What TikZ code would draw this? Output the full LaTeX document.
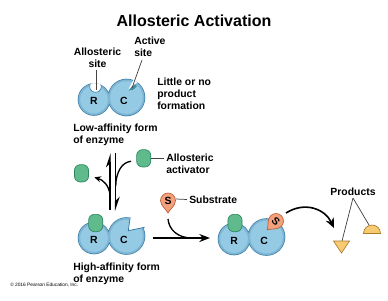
\documentclass[tikz,border=0pt]{standalone}
\usepackage{fontspec}
\setmainfont{Liberation Sans}
\usetikzlibrary{arrows.meta}
\definecolor{enzfill}{HTML}{95CAE4}
\definecolor{enzrim}{HTML}{7DB5D3}
\definecolor{enzline}{HTML}{3B7CA6}
\definecolor{sitefill}{HTML}{3F8FA0}
\definecolor{actfill}{HTML}{5FBA8C}
\definecolor{actline}{HTML}{2F8560}
\definecolor{subfill}{HTML}{F3A17C}
\definecolor{subline}{HTML}{BC5E38}
\definecolor{prodfill}{HTML}{F7CB72}
\definecolor{prodline}{HTML}{A9772A}
\definecolor{leadline}{HTML}{444444}
\tikzset{
  x=.75pt, y=-.75pt,
  txtlabel/.style={font=\fontsize{7.8}{9}\selectfont\bfseries, align=left, inner sep=0pt, text=black},
  txtcentre/.style={txtlabel, align=center},
  letter/.style={font=\fontsize{7.8}{9}\selectfont\bfseries, inner sep=0pt},
  lead/.style={draw=leadline, line width=.55pt},
  curveline/.style={draw=black, line width=1pt},
  flow/.style={curveline, line width=1.2pt, -{Stealth[length=8pt,width=6pt]}},
  flowsmall/.style={curveline, -{Stealth[length=5pt,width=4.5pt]}},
  halfhead/.style={curveline, line width=1.1pt, -{Stealth[harpoon,length=9pt,width=6pt]}},
  activator/.style={draw=actline, fill=actfill, line width=.5pt, rounded corners=4.4pt,
     minimum width=10.6pt, minimum height=13pt, inner sep=0pt},
  lobes/.pic={
    \fill[enzline] (0,0) circle[radius=16.3] (32.5,-2) circle[radius=18.8];
    \fill[enzrim] (0,0) circle[radius=15.6] (32.5,-2) circle[radius=18.1];
    \fill[enzfill] (0,0) circle[radius=13.8] (32.5,-2) circle[radius=16.3];
    \node[letter] at (0,1.5) {R};
    \node[letter] at (30,1.5) {C};
  },
  droplet/.pic={
    \draw[draw=subline, fill=subfill, line width=.5pt]
      (0,12.5) .. controls (-1.5,9) and (-7.5,5.5) .. (-7.5,0) arc[start angle=180, end angle=360, radius=7.5]
      .. controls (7.5,5.5) and (1.5,9) .. cycle;
    \node[letter, transform shape] at (0,0.3) {S};
  }
}
\begin{document}
\begin{tikzpicture}
\useasboundingbox (0,0) rectangle (388,300);
\node[font=\fontsize{12}{14}\selectfont\bfseries, inner sep=0pt] (title) at (194,21) {Allosteric Activation};

% low-affinity enzyme with open sites
\pic at (94,99.5) {lobes};
\begin{scope}
  \clip (94,99.5) circle[radius=16.3];
  \draw[draw=enzline, fill=white, line width=.5pt] (95.5,86.5) circle[radius=5.8];
\end{scope}
\begin{scope}
  \clip (126.5,97.5) circle[radius=18.8];
  \fill[sitefill] (128.5,90.5) -- (134,83) -- (137,86) .. controls (134,90) and (131,91) .. cycle;
  \fill[white] (128.5,90) .. controls (130,85) and (133,81) .. (136,76) -- (142,80) .. controls (137,83) and (132,85) .. cycle;
\end{scope}
\coordinate (allosite) at (96,90);
\coordinate (activesite) at (132,88);
\node[txtcentre] (lblallo) at (97.5,58) {Allosteric\\site};
\node[txtlabel, anchor=north west] (lblactive) at (134,37) {Active\\site};
\draw[lead] (lblallo.south -| allosite) ++(0,1.5) -- (allosite);
\coordinate (activetop) at (142,60);
\draw[lead] (activetop) -- (activesite);
\node[txtlabel, anchor=north west] (lblform) at (157,78) {Little or no\\product\\formation};
\node[txtlabel, anchor=north west] (lbllow) at (73,123.5) {Low-affinity form\\of enzyme};

% reversible activator binding
\coordinate (upstart) at (110,210);
\coordinate (upend) at (110,153);
\coordinate (downstart) at (115.7,153);
\coordinate (downend) at (115.7,211);
\node[activator] (greentop) at (143.7,158.3) {};
\node[activator] (greenleft) at (81.5,173.3) {};
\coordinate (bindend) at (115.7,186);
\coordinate (leaveend) at (94.3,177.3);
\draw[halfhead] (upstart) -- (upend);
\draw[halfhead] (downstart) -- (downend);
\draw[curveline] (131,161.3) .. controls (122,162) and (116,172) .. (bindend);
\draw[flowsmall] (110,195) .. controls (109,185) and (103,180) .. (leaveend);
\node[txtlabel, anchor=north west] (lblact) at (166,154) {Allosteric\\activator};
\draw[lead] (greentop.east) -- ([xshift=-1.5pt]lblact.west |- greentop.east);

% high-affinity enzyme with activator bound
\pic at (94,238) {lobes};
\fill[white] (128.3,230.7) -- (130,218.5) -- (150,212) -- (150,228) -- (144.5,227.3) -- cycle;
\draw[draw=enzline, line width=.6pt] (130,218.3) -- (128.3,230.7) -- (144.6,227.3);
\node[activator] (greenhigh) at (95.7,223) {};
\node[txtlabel, anchor=north west] (lblhigh) at (73,263) {High-affinity form\\of enzyme};

% substrate joins the flow arrow
\pic at (168,200.5) {droplet};
\coordinate (subtail) at (176,199);
\node[txtlabel, anchor=west] (lblsub) at (189,199.5) {Substrate};
\draw[lead] (subtail) -- ([xshift=-1.5pt]lblsub.west);
\coordinate (flowstart) at (153,238);
\coordinate (flowend) at (210,238);
\draw[flow] (flowstart) -- (flowend);
\draw[curveline] (168,219) .. controls (169,230) and (178,238) .. (192,238);

% enzyme-substrate complex
\pic at (234,239) {lobes};
\node[activator] (greencomplex) at (235,223) {};
\pic[rotate=-45] at (276,221) {droplet};

% reaction products
\draw[flow, -{Stealth[length=7.5pt,width=6.5pt]}] (286,213) .. controls (305,201) and (325,209) .. (334,228);
\node[txtlabel, anchor=base] (lblprod) at (353,195.5) {Products};
\coordinate (prodapex) at (353,198);
\coordinate (conetop) at (342,241);
\coordinate (domebase) at (369,225);
\draw[lead] (prodapex) -- (conetop);
\draw[lead] (prodapex) -- (domebase);
\draw[draw=prodline, fill=prodfill, line width=.5pt] (333.5,241) -- (349.5,241) -- (341.5,253) -- cycle;
\draw[draw=prodline, fill=prodfill, line width=.5pt] (363.5,233.5) arc[start angle=180, end angle=360, radius=8.5] -- cycle;

\node[font=\fontsize{3.6}{4}\selectfont, inner sep=0pt, anchor=west] (credit) at (10,285) {© 2016 Pearson Education, Inc.};
\end{tikzpicture}
\end{document}
